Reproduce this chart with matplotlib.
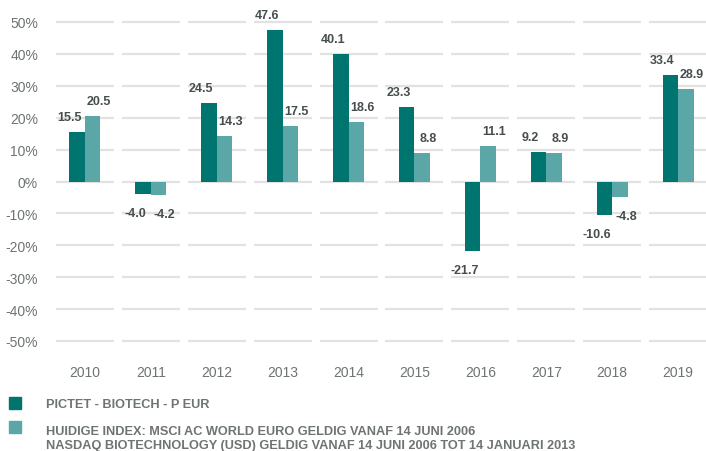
import matplotlib
matplotlib.use("Agg")
import matplotlib.pyplot as plt
from matplotlib.patches import Rectangle

years = ["2010", "2011", "2012", "2013", "2014", "2015", "2016", "2017", "2018", "2019"]
fund = [15.5, -4.0, 24.5, 47.6, 40.1, 23.3, -21.7, 9.2, -10.6, 33.4]
index = [20.5, -4.2, 14.3, 17.5, 18.6, 8.8, 11.1, 8.9, -4.8, 28.9]
yticks = [50, 40, 30, 20, 10, 0, -10, -20, -30, -40, -50]
fund_name = "PICTET - BIOTECH - P EUR"
index_name = ("HUIDIGE INDEX: MSCI AC WORLD EURO GELDIG VANAF 14 JUNI 2006\n"
              "NASDAQ BIOTECHNOLOGY (USD) GELDIG VANAF 14 JUNI 2006 TOT 14 JANUARI 2013")

dark = "#00746f"
light = "#5ba6a6"
grid_col = "#e2e2e2"
tick_col = "#6e7373"
lab_col = "#464d4e"

plt.rcParams['font.family'] = ['Liberation Sans', 'DejaVu Sans']

fig = plt.figure(figsize=(7.06, 4.52), dpi=100)
ax = fig.add_axes([52 / 706, 1 - 342 / 452, 659 / 706, 319 / 452])
ax.set_xlim(-0.5, len(years) - 0.5)
ax.set_ylim(-50, 50)
for s in ax.spines.values():
    s.set_visible(False)

# segmented grid lines, one piece per category
for y in yticks:
    for i in range(len(years)):
        ax.plot([i - 0.44, i + 0.44], [y, y], color=grid_col, lw=1.6,
                zorder=0, clip_on=False, solid_capstyle='butt')

w = 0.235
xs = list(range(len(years)))
ax.bar([x - w / 2 for x in xs], fund, width=w, color=dark, zorder=2)
ax.bar([x + w / 2 for x in xs], index, width=w, color=light, zorder=2)

for i in xs:
    for v, dx in ((fund[i], -w / 2 - 0.12), (index[i], w / 2 + 0.09)):
        off = 15 if v >= 0 else -19
        ax.annotate("%.1f" % v, (i + dx, v), xytext=(0, off),
                    textcoords='offset pixels', ha='center', va='center',
                    fontsize=9, fontweight='bold', color=lab_col,
                    annotation_clip=False)

ax.set_yticks(yticks)
ax.set_yticklabels(["%d%%" % t for t in yticks])
ax.set_xticks(xs)
ax.set_xticklabels(years)
ax.tick_params(axis='both', length=0, labelsize=10, labelcolor=tick_col)
ax.tick_params(axis='y', pad=10)
ax.tick_params(axis='x', pad=17)

# legend
fig.patches.append(Rectangle((9 / 706, 1 - 410 / 452), 12 / 706, 12 / 452,
                             transform=fig.transFigure, color=dark, figure=fig))
fig.patches.append(Rectangle((9 / 706, 1 - 434 / 452), 12 / 706, 12 / 452,
                             transform=fig.transFigure, color=light, figure=fig))
fig.text(46 / 706, 1 - 405 / 452, fund_name, ha='left', va='center',
         fontsize=9.2, fontweight='bold', color=tick_col)
fig.text(46 / 706, 1 - 439 / 452, index_name, ha='left', va='center',
         fontsize=9.2, fontweight='bold', color=tick_col, linespacing=1.2)

fig.savefig("out.png", dpi=100)
